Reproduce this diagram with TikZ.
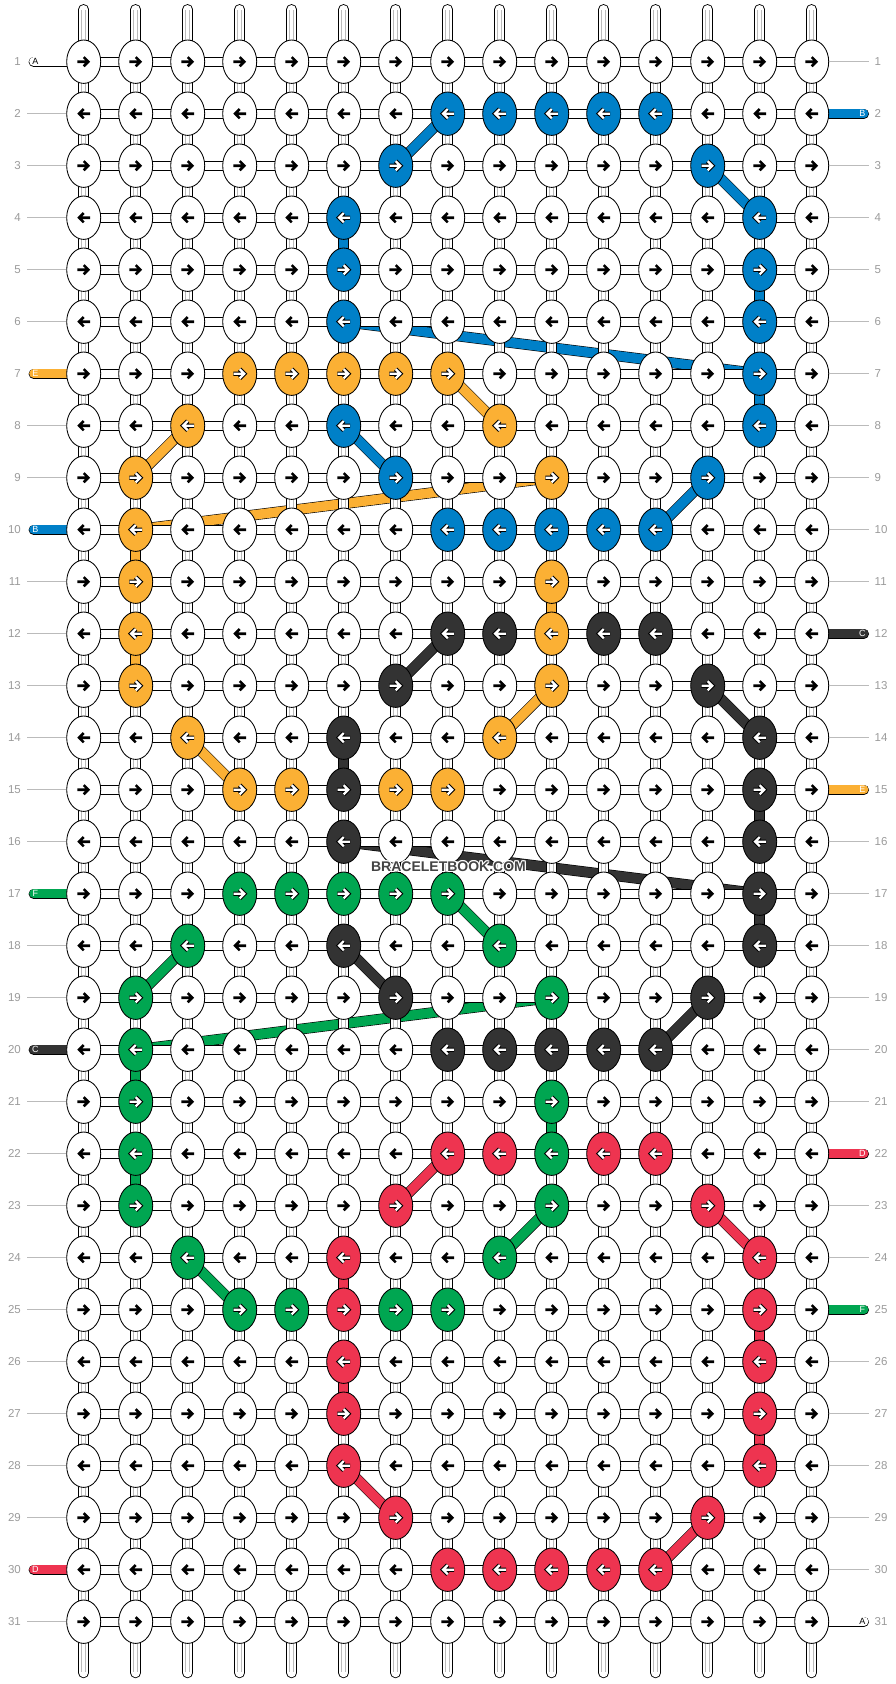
\documentclass[tikz,border=0pt]{standalone}
\usepackage{fontspec}
\setmainfont{Liberation Sans}
\usetikzlibrary{shapes.geometric,calc}
\pgfdeclarelayer{lines}
\pgfdeclarelayer{conns}
\pgfdeclarelayer{topmark}
\pgfsetlayers{lines,conns,main,topmark}
\definecolor{cB}{HTML}{0080C8}
\definecolor{cC}{HTML}{333333}
\definecolor{cD}{HTML}{EE3450}
\definecolor{cE}{HTML}{FBB034}
\definecolor{cF}{HTML}{00A651}
\definecolor{gridgrey}{HTML}{BBBBBB}
\definecolor{numgrey}{HTML}{9B9B9B}
\definecolor{markgrey}{HTML}{444444}
\newcommand\setkc[3]{\expandafter\xdef\csname kc-#1-#2\endcsname{#3}}
\begin{document}
\begin{tikzpicture}[x=1pt,y=-1pt,
  knot/.style={ellipse, draw=black, line width=0.85pt, minimum width=34pt, minimum height=43.4pt, inner sep=0pt},
  arrowline/.style={line width=2.6pt, line cap=butt, line join=miter},
  vtube/.style={draw=black, line width=0.9pt, double=white, double distance=8.8pt},
  vinner/.style={draw=gridgrey, line width=0.75pt, double=white, double distance=3pt},
  htube/.style={draw=black, line width=0.9pt, double=white, double distance=8.4pt},
  ctube/.style={draw=black, line width=0.9pt, double=#1, double distance=8.8pt},
  strand/.style={draw=black, line width=0.6pt, double=#1, double distance=9.6pt},
  sidetube/.style={draw=black, line width=0.6pt, double=#1, double distance=9pt, line cap=round},
  numlab/.style={text=numgrey, font=\fontsize{11.5}{12}\selectfont, inner sep=0pt},
  letlab/.style={font=\fontsize{9}{9}\selectfont, inner sep=0pt},
  rowline/.style={draw=gridgrey, line width=0.9pt}]
\useasboundingbox (0,0) rectangle (896,1684);
% colour table
\foreach \r/\c in {2/8,2/9,2/10,2/11,2/12,3/7,3/13,4/6,4/14,5/6,5/14,6/6,6/14,7/14,8/6,8/14,9/7,9/13,10/8,10/9,10/10,10/11,10/12}{\setkc{\r}{\c}{cB}}
\foreach \r/\c in {7/4,7/5,7/6,7/7,7/8,8/3,8/9,9/2,9/10,10/2,11/2,11/10,12/2,12/10,13/2,13/10,14/3,14/9,15/4,15/5,15/7,15/8}{\setkc{\r}{\c}{cE}}
\foreach \r/\c in {12/8,12/9,12/11,12/12,13/7,13/13,14/6,14/14,15/6,15/14,16/6,16/14,17/14,18/6,18/14,19/7,19/13,20/8,20/9,20/10,20/11,20/12}{\setkc{\r}{\c}{cC}}
\foreach \r/\c in {17/4,17/5,17/6,17/7,17/8,18/3,18/9,19/2,19/10,20/2,21/2,21/10,22/2,22/10,23/2,23/10,24/3,24/9,25/4,25/5,25/7,25/8}{\setkc{\r}{\c}{cF}}
\foreach \r/\c in {22/8,22/9,22/11,22/12,23/7,23/13,24/6,24/14,25/6,25/14,26/6,26/14,27/6,27/14,28/6,28/14,29/7,29/13,30/8,30/9,30/10,30/11,30/12}{\setkc{\r}{\c}{cD}}
\foreach \r in {1,7,10,17,20,30}{\expandafter\xdef\csname ll-\r\endcsname{1}}
\foreach \r in {2,12,15,22,25,31}{\expandafter\xdef\csname rl-\r\endcsname{1}}
% knots
\foreach \r in {1,...,31}{
 \foreach \c in {1,...,15}{
  \pgfmathsetmacro\xx{31.7+52*\c}
  \pgfmathsetmacro\yy{9.7+52*\r}
  \pgfmathsetmacro\dir{isodd(\r)?1:-1}
  \ifcsname kc-\r-\c\endcsname
    \edef\kcol{\csname kc-\r-\c\endcsname}
    \node[knot, fill=\kcol] (k-\r-\c) at (\xx,\yy) {};
    \draw[arrowline, line width=4.4pt, black, shift={(\xx,\yy)}, xscale=\dir] (-6.4,0) -- (4.4,0) (0,-4.6) -- (4.6,0) -- (0,4.6);
    \draw[arrowline, line width=2.3pt, white, shift={(\xx,\yy)}, xscale=\dir] (-6.2,0) -- (4.4,0) (0,-4.6) -- (4.6,0) -- (0,4.6);
  \else
    \node[knot, fill=white] (k-\r-\c) at (\xx,\yy) {};
    \draw[arrowline, black, shift={(\xx,\yy)}, xscale=\dir] (-6.4,0) -- (4.4,0) (0,-4.6) -- (4.6,0) -- (0,4.6);
  \fi
 }
}
% strands of colour
\begin{pgfonlayer}{lines}
\fill[white] (0,0) rectangle (896,1684);
\foreach \col/\ra/\ca/\rb/\cb in {cB/6/6/7/14, cE/9/10/10/2, cC/16/6/17/14, cF/19/10/20/2,
  cB/2/8/3/7, cB/3/13/4/14, cB/8/6/9/7, cB/9/13/10/12,
  cE/7/8/8/9, cE/8/3/9/2, cE/13/10/14/9, cE/14/3/15/4,
  cC/12/8/13/7, cC/13/13/14/14, cC/18/6/19/7, cC/19/13/20/12,
  cF/17/8/18/9, cF/18/3/19/2, cF/23/10/24/9, cF/24/3/25/4,
  cD/22/8/23/7, cD/23/13/24/14, cD/28/6/29/7, cD/29/13/30/12}{
  \draw[strand=\col] (k-\ra-\ca.center) -- (k-\rb-\cb.center);
}
\end{pgfonlayer}
% connectors
\begin{pgfonlayer}{conns}
\foreach \c in {1,...,15}{
  \coordinate (top-\c) at (31.7+52*\c, 9.4);
  \coordinate (bot-\c) at (31.7+52*\c, 1672.9);
  \draw[vtube, line cap=round] (top-\c) -- (k-1-\c.center);
  \draw[vinner] ($(top-\c)+(0,1)$) -- (k-1-\c.center);
  \draw[vtube, line cap=round] (k-31-\c.center) -- (bot-\c);
  \draw[vinner] (k-31-\c.center) -- ($(bot-\c)+(0,-1)$);
  \foreach \r in {1,...,30}{
    \pgfmathtruncatemacro\rr{\r+1}
    \draw[vtube] (k-\r-\c.center) -- (k-\rr-\c.center);
    \draw[vinner] (k-\r-\c.center) -- (k-\rr-\c.center);
  }
}
\foreach \r in {1,...,31}{
  \foreach \c in {1,...,14}{
    \pgfmathtruncatemacro\cc{\c+1}
    \draw[htube] (k-\r-\c.center) -- (k-\r-\cc.center);
  }
}
\foreach \col/\c/\r in {cB/6/4, cB/14/5, cB/14/7, cE/2/10, cE/2/12, cE/10/11,
  cC/6/14, cC/14/15, cC/14/17, cF/2/20, cF/2/22, cF/10/21,
  cD/6/24, cD/6/26, cD/14/25, cD/14/27}{
  \pgfmathtruncatemacro\rr{\r+1}
  \draw[ctube=\col] (k-\r-\c.center) -- (k-\rr-\c.center);
}
\foreach \r/\L/\col in {1/A/white, 7/E/cE, 10/B/cB, 17/F/cF, 20/C/cC, 30/D/cD}{
  \coordinate (lt-\r) at (33.7, 9.7+52*\r);
  \draw[sidetube=\col] (lt-\r) -- (k-\r-1.center);
}
\foreach \r/\L/\col in {2/B/cB, 12/C/cC, 15/E/cE, 22/D/cD, 25/F/cF, 31/A/white}{
  \coordinate (rt-\r) at (863.9, 9.7+52*\r);
  \draw[sidetube=\col] (k-\r-15.center) -- (rt-\r);
}
\end{pgfonlayer}
% side letters
\foreach \r/\L/\tc in {1/A/black, 7/E/white, 10/B/white, 17/F/white, 20/C/white, 30/D/white}{
  \node[letlab, text=\tc] (ll-\r) at (35.3, 9.7+52*\r) {\L};
}
\foreach \r/\L/\tc in {2/B/white, 12/C/white, 15/E/white, 22/D/white, 25/F/white, 31/A/black}{
  \node[letlab, text=\tc] (rl-\r) at (862.3, 9.7+52*\r) {\L};
}
% row numbers and guide lines
\foreach \r in {1,...,31}{
  \node[numlab, anchor=east] (ln-\r) at (21, 9.7+52*\r) {\r};
  \node[numlab, anchor=west] (rn-\r) at (874.5, 9.7+52*\r) {\r};
  \ifcsname ll-\r\endcsname\else
    \coordinate (lg-\r) at (27, 9.7+52*\r);
    \draw[rowline] (lg-\r) -- (k-\r-1.west);
  \fi
  \ifcsname rl-\r\endcsname\else
    \coordinate (rg-\r) at (869.3, 9.7+52*\r);
    \draw[rowline] (k-\r-15.east) -- (rg-\r);
  \fi
}
% watermark
\begin{pgfonlayer}{topmark}
\foreach \dx/\dy [count=\i] in {-1/0,1/0,0/-1,0/1,-0.8/-0.8,0.8/0.8,-0.8/0.8,0.8/-0.8}{
  \node[font=\bfseries\fontsize{14}{14}\selectfont, text=white, inner sep=0pt] (wmh-\i) at (448.5+\dx, 866.7+\dy) {BRACELETBOOK.COM};
}
\node[font=\bfseries\fontsize{14}{14}\selectfont, text=markgrey, inner sep=0pt] (wm) at (448.5, 866.7) {BRACELETBOOK.COM};
\end{pgfonlayer}
\end{tikzpicture}
\end{document}
